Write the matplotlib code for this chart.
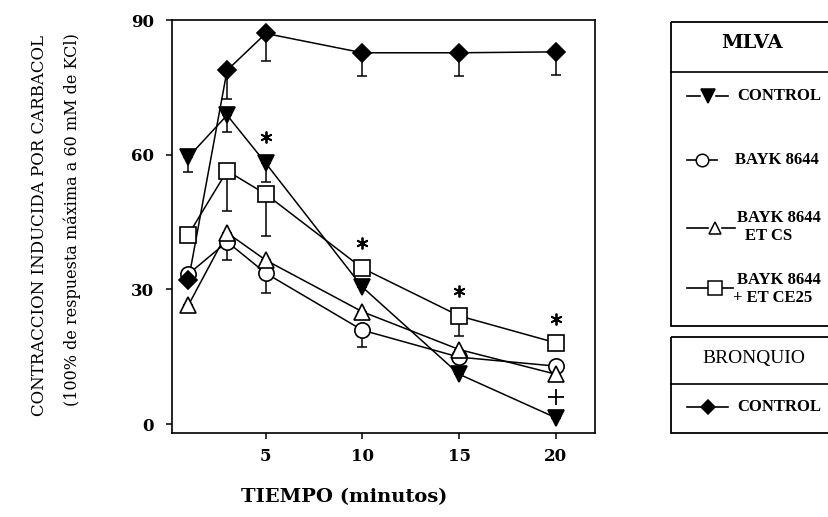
import numpy as np
import matplotlib
matplotlib.use("Agg")
import matplotlib.pyplot as plt
from matplotlib.patches import Rectangle

# tiempo (minutos)
tiempo = [1, 3, 5, 10, 15, 20]

# MLVA
control_mlva = [59.5, 68.8, 58.1, 30.5, 11.1, 1.4]
control_mlva_err = [3.3, 3.7, 4.1, 0, 0, 0]
bayk = [33.4, 40.6, 33.6, 20.9, 14.9, 12.9]
bayk_err = [0, 4.1, 4.4, 3.7, 0, 0]
bayk_et_cs = [26.5, 42.6, 36.5, 25.0, 16.6, 11.1]
bayk_et_cs_err = [0, 0, 0, 0, 0, 0]
bayk_et_ce25 = [42.2, 56.4, 51.2, 34.7, 24.1, 18.1]
bayk_et_ce25_err = [0, 9.0, 9.3, 0, 4.5, 0]

# BRONQUIO
control_bronquio = [32.0, 78.8, 87.0, 82.7, 82.7, 82.9]
control_bronquio_err = [0, 6.3, 6.2, 5.2, 5.2, 5.2]

# significacion
star_x = [5, 10, 15, 20]
star_y = [64.0, 40.4, 29.7, 23.5]
plus_x = [20]
plus_y = [6.1]

y_ticks = [0, 30, 60, 90]
x_ticks = [5, 10, 15, 20]

series = [
    (bayk, bayk_err, dict(marker='o', ms=11, mfc='white')),
    (bayk_et_cs, bayk_et_cs_err, dict(marker='^', ms=12, mfc='white')),
    (bayk_et_ce25, bayk_et_ce25_err, dict(marker='s', ms=11.5, mfc='white')),
    (control_mlva, control_mlva_err, dict(marker='v', ms=12, mfc='black')),
    (control_bronquio, control_bronquio_err, dict(marker='D', ms=9, mfc='black')),
]

W, H = 829, 517
fig = plt.figure(figsize=(W / 100, H / 100), dpi=100)
ax = fig.add_axes([172 / W, 84 / H, 423 / W, 413 / H])

lw = 1.1
for vals, err, style in series:
    ax.plot(tiempo, vals, color='black', lw=lw, zorder=2)
    ax.errorbar(tiempo, vals, yerr=[err, np.zeros(len(err))], fmt='none',
                ecolor='black', elinewidth=lw, capsize=3.6, capthick=lw, zorder=2)
for vals, err, style in series:
    ax.plot(tiempo, vals, ls='none', mec='black', mew=1.2, zorder=3, **style)

ax.plot(star_x, star_y, ls='none', marker=(6, 2, 0), ms=8.5, mew=1.3, color='black', zorder=3)
ax.plot(plus_x, plus_y, ls='none', marker='+', ms=12, mew=1.3, color='black', zorder=3)

ax.set_xlim(0.15, 22.03)
ax.set_ylim(-2, 90)
ax.set_xticks(x_ticks)
ax.set_yticks(y_ticks)
tick_font = dict(family='DejaVu Serif', weight='bold', size=12)
ax.set_xticklabels([str(t) for t in x_ticks], fontdict=tick_font)
ax.set_yticklabels([str(t) for t in y_ticks], fontdict=tick_font)
ax.tick_params(direction='out', length=4, width=1.1, pad=7)
ax.tick_params(axis='y', pad=9)
for sp in ax.spines.values():
    sp.set_linewidth(1.2)

fig.text(344 / W, 1 - 497 / H, 'TIEMPO (minutos)', ha='center', va='center',
         family='DejaVu Serif', weight='bold', size=14)
fig.text(40 / W, 1 - 225 / H, 'CONTRACCION INDUCIDA POR CARBACOL', rotation=90,
         ha='center', va='center', family='DejaVu Serif', size=12)
fig.text(72 / W, 1 - 220 / H, '(100% de respuesta máxima a 60 mM de KCl)', rotation=90,
         ha='center', va='center', family='DejaVu Serif', size=11.5)

# leyenda en coordenadas de pixel
lg = fig.add_axes([660 / W, 0, 169 / W, 1])
lg.set_xlim(660, 829)
lg.set_ylim(517, 0)
lg.axis('off')

def box(top, sep, bottom):
    lg.add_patch(Rectangle((671, top), 200, bottom - top, fill=False, lw=1.3, ec='black'))
    lg.plot([671, 829], [sep, sep], color='black', lw=1.2)

box(22, 72, 326)
box(337, 384, 433)

lg.text(752, 43, 'MLVA', ha='center', va='center', family='DejaVu Serif', weight='bold', size=14)
lg.text(754, 358, 'BRONQUIO', ha='center', va='center', family='Liberation Serif', size=14)

def entry(y, mx, marker, ms, mfc, d1, d2):
    lg.plot(d1, [y, y], color='black', lw=1.2)
    lg.plot(d2, [y, y], color='black', lw=1.2)
    lg.plot([mx], [y], marker=marker, ms=ms, mfc=mfc, mec='black', mew=1.1, ls='none')

lab_font = dict(family='Liberation Serif', weight='bold', size=12)
entry(96, 708, 'v', 9.5, 'black', [687, 700], [716, 728])
lg.text(737, 96, 'CONTROL', ha='left', va='center', **lab_font)
entry(160, 702, 'o', 9, 'white', [687, 697], [708, 717])
lg.text(735, 160, 'BAYK 8644', ha='left', va='center', **lab_font)
entry(228, 715, '^', 9, 'white', [687, 708], [722, 735])
lg.text(737, 218, 'BAYK 8644', ha='left', va='center', **lab_font)
lg.text(745, 236, 'ET CS', ha='left', va='center', **lab_font)
entry(288, 715, 's', 9.5, 'white', [687, 708], [722, 733])
lg.text(737, 280, 'BAYK 8644', ha='left', va='center', **lab_font)
lg.text(733, 298, '+ ET CE25', ha='left', va='center', **lab_font)
entry(407, 708, 'D', 7, 'black', [687, 700], [716, 728])
lg.text(737, 407, 'CONTROL', ha='left', va='center', **lab_font)

fig.savefig('out.png', dpi=100)
